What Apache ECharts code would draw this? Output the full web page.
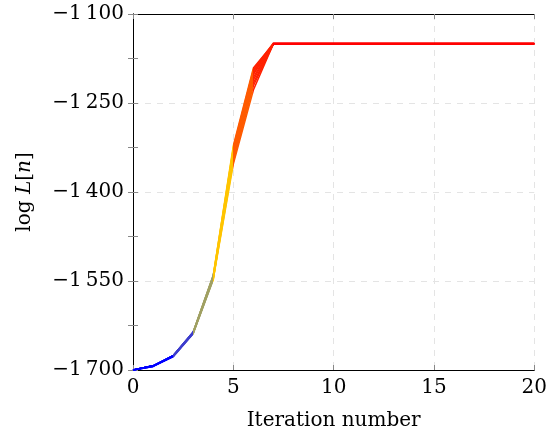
<!DOCTYPE html>
<html>
<head>
<meta charset="utf-8">
<script src="https://cdn.jsdelivr.net/npm/echarts@6/dist/echarts.min.js"></script>
<style>html,body{margin:0;padding:0;background:#fff}#c{width:550px;height:436px}</style>
</head>
<body>
<div id="c"></div>
<script>
var iterations = [0,1,2,3,4,5,6,7,8,9,10,11,12,13,14,15,16,17,18,19,20];
var run1  = [-1700,-1693,-1676,-1636,-1540,-1322,-1191,-1150,-1150,-1150,-1150,-1150,-1150,-1150,-1150,-1150,-1150,-1150,-1150,-1150,-1150];
var run2  = [-1700,-1693,-1676,-1636,-1541,-1327,-1197,-1150,-1150,-1150,-1150,-1150,-1150,-1150,-1150,-1150,-1150,-1150,-1150,-1150,-1150];
var run3  = [-1700,-1693,-1676,-1637,-1542,-1332,-1202,-1150,-1150,-1150,-1150,-1150,-1150,-1150,-1150,-1150,-1150,-1150,-1150,-1150,-1150];
var run4  = [-1700,-1693,-1676,-1637,-1543,-1337,-1207,-1150,-1150,-1150,-1150,-1150,-1150,-1150,-1150,-1150,-1150,-1150,-1150,-1150,-1150];
var run5  = [-1700,-1693,-1677,-1637,-1544,-1341,-1211,-1150,-1150,-1150,-1150,-1150,-1150,-1150,-1150,-1150,-1150,-1150,-1150,-1150,-1150];
var run6  = [-1700,-1693,-1677,-1638,-1545,-1345,-1216,-1151,-1151,-1151,-1151,-1151,-1151,-1151,-1151,-1151,-1151,-1151,-1151,-1151,-1151];
var run7  = [-1700,-1694,-1677,-1638,-1546,-1349,-1221,-1150,-1150,-1150,-1150,-1150,-1150,-1150,-1150,-1150,-1150,-1150,-1150,-1150,-1150];
var run8  = [-1700,-1694,-1677,-1638,-1547,-1353,-1228,-1150,-1150,-1150,-1150,-1150,-1150,-1150,-1150,-1150,-1150,-1150,-1150,-1150,-1150];
var run9  = [-1700,-1694,-1678,-1639,-1548,-1330,-1200,-1150,-1150,-1150,-1150,-1150,-1150,-1150,-1150,-1150,-1150,-1150,-1150,-1150,-1150];
var run10 = [-1700,-1693,-1676,-1636,-1541,-1325,-1194,-1149,-1149,-1149,-1149,-1149,-1149,-1149,-1149,-1149,-1149,-1149,-1149,-1149,-1149];
var runs = [run1,run2,run3,run4,run5,run6,run7,run8,run9,run10];
var xTicks = [0,5,10,15,20];
var yTicks = [-1700,-1550,-1400,-1250,-1100];

var FONT = 'DejaVu Serif';
var FS = 20;
function yFmt(v){
  if (yTicks.indexOf(v) < 0) return '';
  var a = Math.abs(v);
  var s = String(a);
  if (a >= 1000) s = s.slice(0, s.length-3) + '\u2009' + s.slice(s.length-3);
  return (v < 0 ? '\u2212' : '') + s;
}
var series = runs.map(function(r){
  return {
    type:'line', xAxisIndex:0, yAxisIndex:0,
    data: iterations.map(function(x,i){return [x, r[i]];}),
    showSymbol:false, symbol:'none', lineStyle:{width:1.5}, silent:true
  };
});
var chart = echarts.init(document.getElementById('c'), null, {renderer:'canvas'});
var tickCommon = {show:true, inside:true, length:5, lineStyle:{color:'#888', width:1}};
var yMin = yTicks[0], yMax = yTicks[yTicks.length-1];
chart.setOption({
  animation:false,
  backgroundColor:'#fff',
  grid:{left:133, top:14, width:406, height:357, containLabel:false},
  visualMap:{
    show:false, type:'piecewise', dimension:0, seriesIndex: runs.map(function(_,i){return i;}),
    pieces:[
      {lt:2, color:'#0000ff'},
      {gte:2, lt:3, color:'#3c3ccc'},
      {gte:3, lt:4, color:'#a0a062'},
      {gte:4, lt:5, color:'#ffc400'},
      {gte:5, lt:6, color:'#ff5a00'},
      {gte:6, lt:7, color:'#ff2000'},
      {gte:7, color:'#ff0000'}
    ]
  },
  xAxis:[
    {type:'value', position:'bottom', min:xTicks[0], max:xTicks[xTicks.length-1], interval:5,
     name:'Iteration number', nameLocation:'middle', nameGap:41,
     nameTextStyle:{fontFamily:FONT, fontSize:FS, color:'#000'},
     axisLine:{show:true, lineStyle:{color:'#000', width:1}},
     axisTick:tickCommon,
     axisLabel:{fontFamily:FONT, fontSize:FS, color:'#000', margin:8},
     splitLine:{show:true, lineStyle:{type:[6,6], color:'#e4e4e4', width:1}}},
    {type:'value', position:'top', min:0, max:20, interval:5,
     axisLine:{show:true, lineStyle:{color:'#000', width:1}},
     axisTick:tickCommon, axisLabel:{show:false}, splitLine:{show:false}}
  ],
  yAxis:[
    {type:'value', position:'left', min:yMin, max:yMax, interval:75,
     name:'{a|log }{b|L}{a|[}{b|n}{a|]}', nameLocation:'middle', nameGap:98, nameRotate:90,
     nameTextStyle:{fontFamily:FONT, fontSize:FS, color:'#000',
       rich:{a:{fontFamily:FONT, fontSize:FS, color:'#000'}, b:{fontFamily:FONT, fontSize:FS, fontStyle:'italic', color:'#000'}}},
     axisLine:{show:true, lineStyle:{color:'#000', width:1}},
     axisTick:tickCommon,
     axisLabel:{fontFamily:FONT, fontSize:FS, color:'#000', margin:9, formatter:yFmt},
     splitLine:{show:false}},
    {type:'value', position:'right', min:yMin, max:yMax, interval:75,
     axisLine:{show:true, lineStyle:{color:'#000', width:1}},
     axisTick:tickCommon,
     axisLabel:{show:false}, splitLine:{show:false}},
    {type:'value', position:'left', min:yMin, max:yMax, interval:150,
     axisLine:{show:false}, axisTick:{show:false}, axisLabel:{show:false},
     splitLine:{show:true, lineStyle:{type:[6,6], color:'#e4e4e4', width:1}}}
  ],
  series: series
});
</script>
</body>
</html>
